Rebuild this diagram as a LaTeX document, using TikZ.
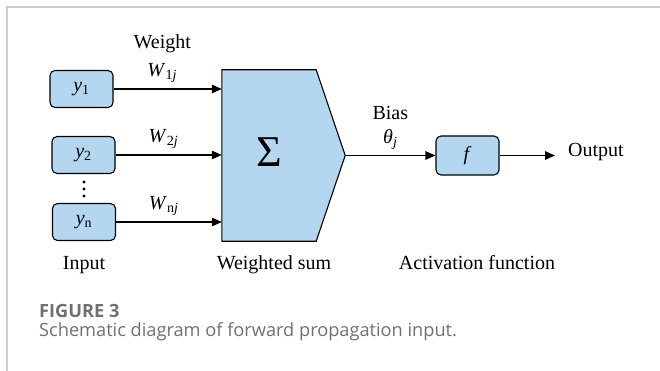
\documentclass[tikz,border=0pt]{standalone}
\usepackage{fontspec}
\setmainfont{Liberation Serif}
\newfontfamily\capfont{Open Sans}
\usepackage{xcolor}
\usetikzlibrary{arrows.meta, positioning, calc, backgrounds}
\definecolor{boxblue}{RGB}{180,214,238}
\definecolor{framegray}{RGB}{204,204,204}
\definecolor{capgray}{RGB}{112,112,112}
\tikzset{
  inbox/.style={rectangle, minimum width=63pt, minimum height=37pt, draw=black, fill=boxblue, rounded corners=5pt, line width=1.1pt, inner sep=0pt, font=\fontsize{20}{24}\selectfont},
  sumbox/.style={rectangle, minimum width=94pt, minimum height=171pt, inner sep=0pt, text height=29pt, text depth=7pt, font=\fontsize{44}{44}\selectfont},
  lbl/.style={inner sep=0pt, font=\fontsize{20}{24}\selectfont},
  caplbl/.style={inner sep=0pt, anchor=base west, text=capgray, font=\capfont\fontsize{18.2}{22}\selectfont},
  arrow/.style={-{Triangle[length=10pt, width=8.5pt]}, line width=1.4pt},
}
\begin{document}
\begin{tikzpicture}[x=1pt, y=-1pt]
\useasboundingbox (0,0) rectangle (660,371);
\draw[framegray, line width=1.2pt] (7,371) -- (7,7) -- (660,7);
\node (y1) [inbox] at (81.5,89) {\textit{y}\textsubscript{1}};
\node (y2) [inbox] at (83.5,155) {\textit{y}\textsubscript{2}};
\node (yn) [inbox] at (84,222) {\textit{y}\textsubscript{n}};
\foreach \yy in {182,189,196} \fill (84,\yy) circle (1.6pt);
\node (sum) [sumbox] at (269,155.5) {Σ};
\coordinate (sumtip) at ($(sum.east)+(29,0)$);
\begin{scope}[on background layer]
\filldraw[fill=boxblue, draw=black, line width=1.1pt] (sum.north west) -- (sum.north east) -- (sumtip) -- (sum.south east) -- (sum.south west) -- cycle;
\end{scope}
\node (f) [inbox, minimum height=39pt] at (467.5,155.5) {\textit{f}};
\node (output) [lbl, anchor=west, inner xsep=13pt] at (555,152.5) {Output};
\draw[arrow] (y1) -- node[lbl, above=6pt, pos=0.45] (w1) {\textit{W}\textsubscript{1\textit{j}}} (y1 -| sum.west);
\draw[arrow] (y2) -- node[lbl, above=6pt, pos=0.45] (w2) {\textit{W}\textsubscript{2\textit{j}}} (y2 -| sum.west);
\draw[arrow] (yn) -- node[lbl, above=6pt, pos=0.45] (wn) {\textit{W}\textsubscript{n\textit{j}}} (yn -| sum.west);
\node (weight) [lbl, above=9pt of w1] {Weight};
\draw[arrow] (sumtip) -- node[lbl, above=5pt] (theta) {\textit{θ}\textsubscript{\textit{j}}} (f);
\node (bias) [lbl, above=9pt of theta] {Bias};
\draw[arrow] (f) -- (f -| output.west);
\node (inlbl) [lbl, anchor=base] at (84,269) {Input};
\node (sumlbl) [lbl, anchor=base] at (274,269) {Weighted sum};
\node (actlbl) [lbl, anchor=base] at (477,269) {Activation function};
\node (fignum) [caplbl, font=\capfont\bfseries\fontsize{18.2}{22}\selectfont] at (39,317) {FIGURE 3};
\node (figcap) [caplbl] at (39,336) {Schematic diagram of forward propagation input.};
\end{tikzpicture}
\end{document}
